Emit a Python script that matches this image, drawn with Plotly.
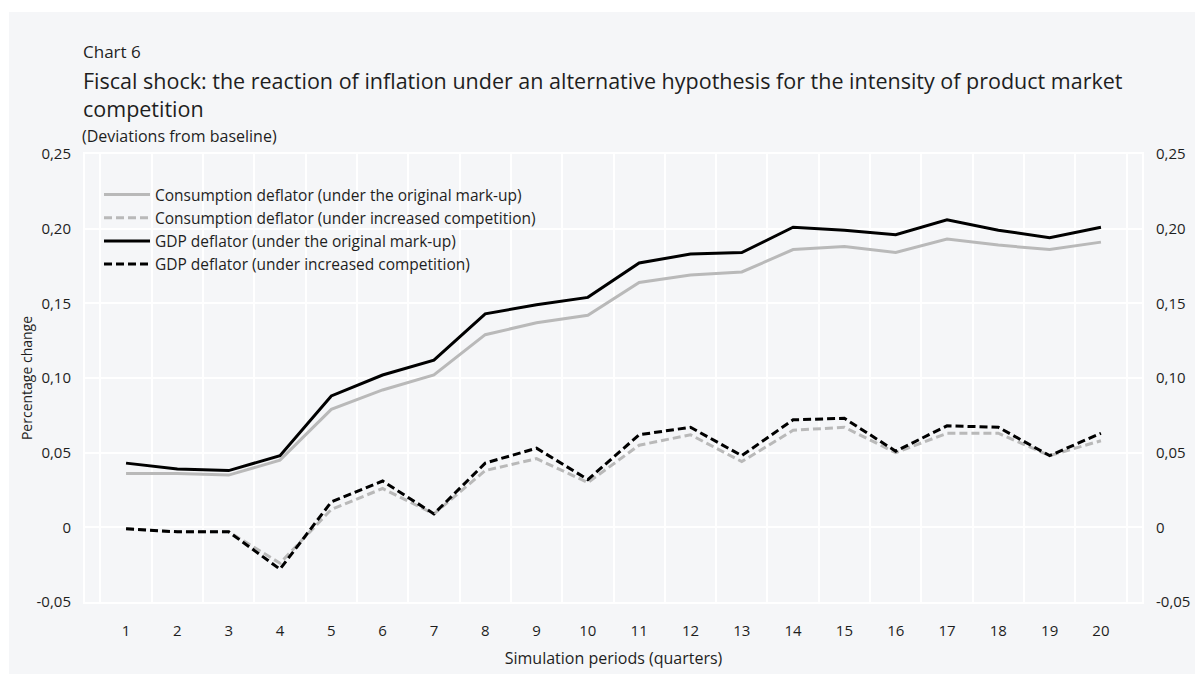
import plotly.graph_objects as go

# ---- data ----
periods = [str(i) for i in range(1, 21)]
cons_orig = [0.036, 0.036, 0.035, 0.045, 0.079, 0.092, 0.102, 0.129, 0.137, 0.142,
             0.164, 0.169, 0.171, 0.186, 0.188, 0.184, 0.193, 0.189, 0.186, 0.191]
cons_comp = [-0.001, -0.003, -0.003, -0.024, 0.012, 0.026, 0.009, 0.038, 0.046, 0.030,
             0.055, 0.062, 0.044, 0.065, 0.067, 0.050, 0.063, 0.063, 0.048, 0.058]
gdp_orig = [0.043, 0.039, 0.038, 0.048, 0.088, 0.102, 0.112, 0.143, 0.149, 0.154,
            0.177, 0.183, 0.184, 0.201, 0.199, 0.196, 0.206, 0.199, 0.194, 0.201]
gdp_comp = [-0.001, -0.003, -0.003, -0.028, 0.017, 0.031, 0.009, 0.043, 0.053, 0.032,
            0.062, 0.067, 0.048, 0.072, 0.073, 0.051, 0.068, 0.067, 0.048, 0.063]
y_ticks = [-0.05, 0.0, 0.05, 0.10, 0.15, 0.20, 0.25]
y_labels = ["-0,05", "0", "0,05", "0,10", "0,15", "0,20", "0,25"]

names = [
    "Consumption deflator (under the original mark-up)",
    "Consumption deflator (under increased competition)",
    "GDP deflator (under the original mark-up)",
    "GDP deflator (under increased competition)",
]

# ---- style ----
# the page body adds an 8px margin, so the figure is sized to fit the window
W, H = 1195, 666
ML, MR, MT, MB = 77, 61, 146, 72
PW = W - ML - MR
PH = H - MT - MB
FONT = "'Open Sans', 'Noto Sans', sans-serif"
TXT = "#1e1e1e"
PANEL = "#f5f6f8"
GREY = "#b9b9b9"
BLACK = "#000000"


def px_x(p):
    return (p - ML) / PW


def px_y(p):
    return (H - MB - p) / PH


fig = go.Figure()
series = [
    (cons_orig, GREY, "solid"),
    (cons_comp, GREY, "8px,4px"),
    (gdp_orig, BLACK, "solid"),
    (gdp_comp, BLACK, "8px,4px"),
]
for (vals, col, dash), nm in zip(series, names):
    fig.add_trace(go.Scatter(
        x=periods, y=vals, name=nm, mode="lines",
        line=dict(color=col, width=3, dash=dash),
        hoverinfo="x+y+name",
    ))

# invisible trace to activate the right-hand axis
fig.add_trace(go.Scatter(
    x=periods, y=gdp_orig, yaxis="y2", mode="lines",
    line=dict(width=0, color="rgba(0,0,0,0)"), showlegend=False, hoverinfo="skip",
))

fig.update_layout(
    width=W, height=H,
    margin=dict(l=ML, r=MR, t=MT, b=MB, autoexpand=False),
    paper_bgcolor="white",
    plot_bgcolor=PANEL,
    font=dict(family=FONT, size=15, color=TXT),
    title=dict(
        text="Fiscal shock: the reaction of inflation under an alternative hypothesis for the intensity of product market<br>competition",
        font=dict(family=FONT, size=21.5, color=TXT),
        xref="container", x=75 / W, xanchor="left",
        yref="container", y=1 - 81 / H, yanchor="top",
    ),
    xaxis=dict(
        type="category",
        categoryorder="array", categoryarray=periods,
        range=[-0.8, 19.8],
        tickson="boundaries",
        showgrid=True, gridcolor="white", gridwidth=2,
        showline=True, linecolor="white", linewidth=2, mirror=True,
        ticks="", ticklabelstandoff=14,
        tickfont=dict(family=FONT, size=15, color=TXT),
        zeroline=False,
        title=dict(text="Simulation periods (quarters)", standoff=14,
                   font=dict(family=FONT, size=16, color=TXT)),
    ),
    yaxis=dict(
        range=[-0.05, 0.25],
        tickmode="array", tickvals=y_ticks, ticktext=y_labels,
        showgrid=True, gridcolor="white", gridwidth=2,
        showline=True, linecolor="white", linewidth=2, mirror=True,
        zeroline=False, ticks="", ticklabelstandoff=9,
        tickfont=dict(family=FONT, size=15, color=TXT),
        title=dict(text="Percentage change", standoff=1,
                   font=dict(family=FONT, size=14, color=TXT)),
    ),
    yaxis2=dict(
        range=[-0.05, 0.25], overlaying="y", side="right",
        tickmode="array", tickvals=y_ticks, ticktext=y_labels,
        showgrid=False, zeroline=False, showline=False,
        ticks="", ticklabelstandoff=13,
        tickfont=dict(family=FONT, size=15, color=TXT),
    ),
    legend=dict(
        x=px_x(91), y=px_y(170), xanchor="left", yanchor="top",
        bgcolor="rgba(0,0,0,0)", borderwidth=0,
        font=dict(family=FONT, size=15.5, color=TXT),
        tracegroupgap=0, itemwidth=46,
    ),
    showlegend=True,
    shapes=[dict(
        type="rect", xref="paper", yref="paper", layer="below",
        x0=px_x(1), x1=px_x(W + 4), y0=px_y(H + 4), y1=px_y(4),
        fillcolor=PANEL, line=dict(width=0),
    )],
    annotations=[
        dict(text="Chart 6", xref="paper", yref="paper",
             x=px_x(73), y=px_y(43), xanchor="left", yanchor="middle",
             showarrow=False, font=dict(family=FONT, size=17, color=TXT)),
        dict(text="(Deviations from baseline)", xref="paper", yref="paper",
             x=px_x(72), y=px_y(128), xanchor="left", yanchor="middle",
             showarrow=False, font=dict(family=FONT, size=16, color=TXT)),
    ],
)

fig.write_html("out.html")
